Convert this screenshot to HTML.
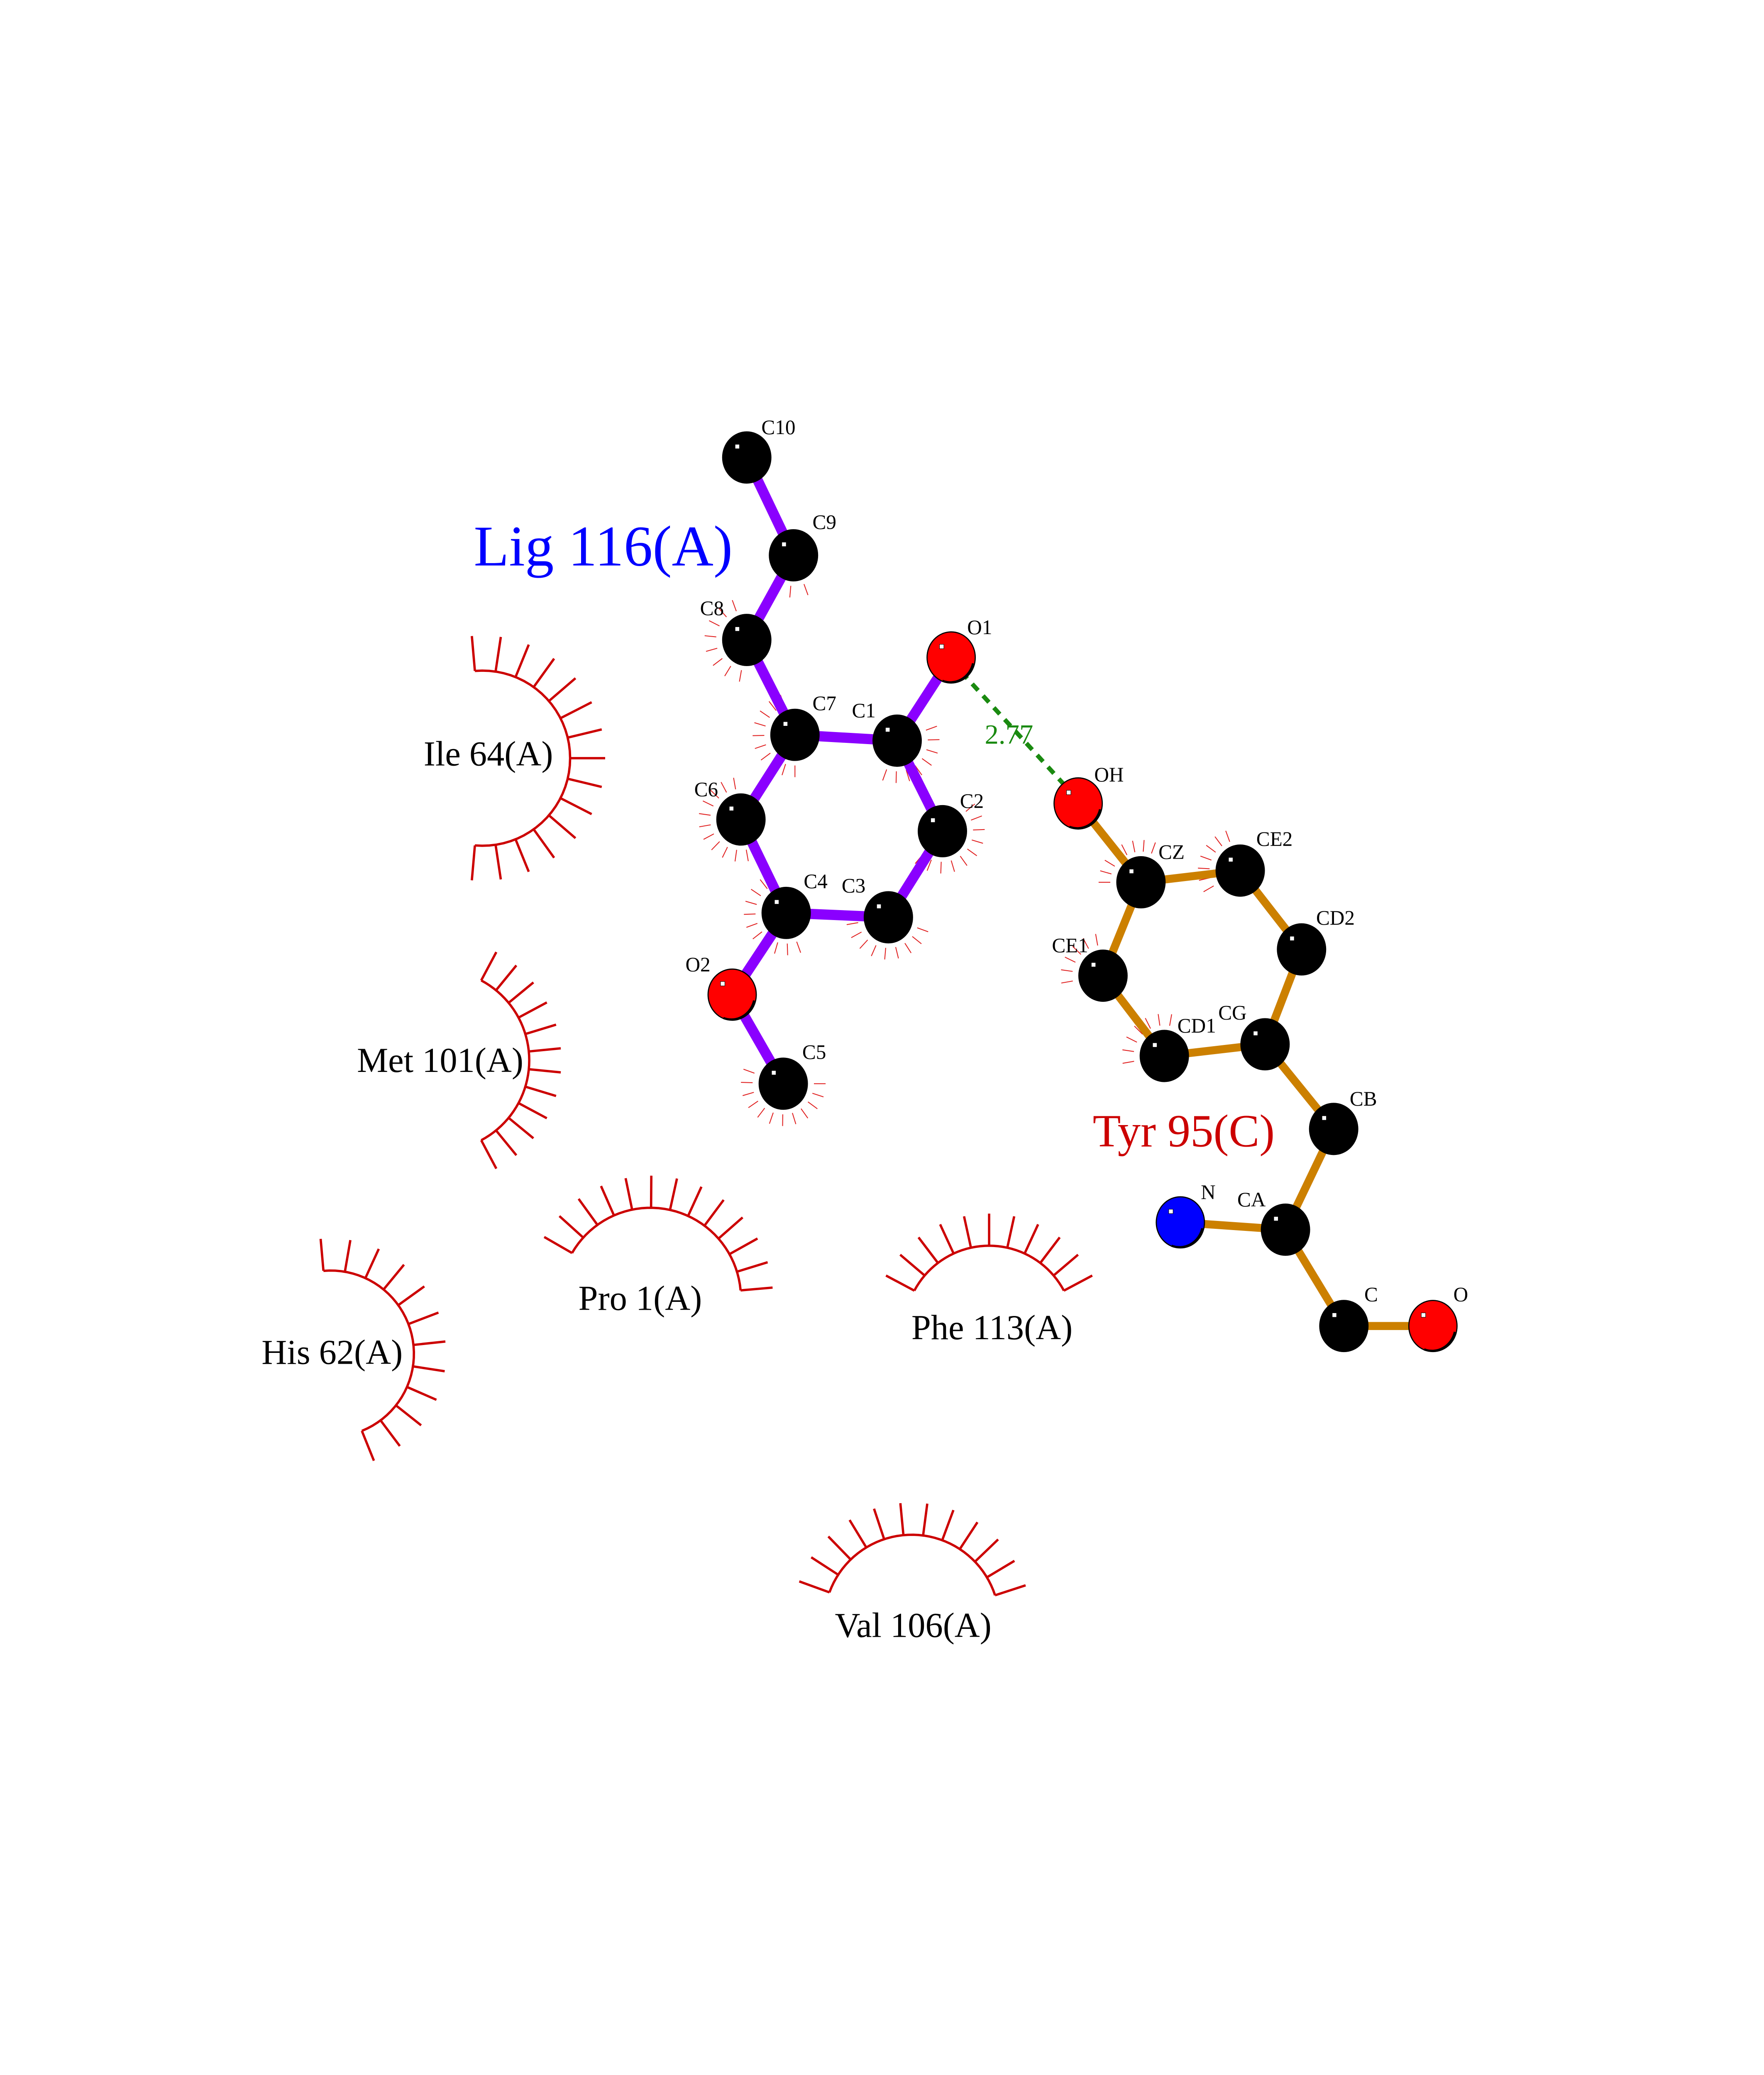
<!DOCTYPE html>
<html><head><meta charset="utf-8"><style>html,body{margin:0;padding:0;background:#fff;width:4250px;height:5500px;overflow:hidden}svg{display:block}</style></head>
<body>
<svg id="s" width="4250" height="5500" viewBox="0 0 1224 1584" xmlns="http://www.w3.org/2000/svg" font-family="Liberation Serif, serif">
<rect width="1224" height="1584" fill="#fff"/>
<g transform="matrix(1.013,0,0,1.013,-1.5,-0.6)">
<g id="arcs" stroke="#cc0000" fill="none" stroke-width="1.6"></g>
<g id="spk" stroke="#e02020" stroke-width="0.6"></g>
<g stroke="#8a00ff" stroke-width="7" stroke-linecap="butt">
<line x1="513" y1="314" x2="545" y2="381"/><line x1="545" y1="381" x2="513" y2="439"/>
<line x1="513" y1="439" x2="546" y2="504"/><line x1="546" y1="504" x2="616" y2="508"/>
<line x1="616" y1="508" x2="653" y2="451"/><line x1="616" y1="508" x2="647" y2="570"/>
<line x1="647" y1="570" x2="610" y2="629"/><line x1="610" y1="629" x2="540" y2="626"/>
<line x1="540" y1="626" x2="509" y2="562"/><line x1="509" y1="562" x2="546" y2="504"/>
<line x1="540" y1="626" x2="503" y2="682"/><line x1="503" y1="682" x2="538" y2="743"/>
</g>
<g stroke="#cc8000" stroke-width="5.5">
<line x1="740" y1="551" x2="783" y2="605"/><line x1="783" y1="605" x2="851" y2="597"/>
<line x1="851" y1="597" x2="893" y2="651"/><line x1="893" y1="651" x2="868" y2="716"/>
<line x1="868" y1="716" x2="799" y2="724"/><line x1="799" y1="724" x2="757" y2="669"/>
<line x1="757" y1="669" x2="783" y2="605"/><line x1="868" y1="716" x2="915" y2="774"/>
<line x1="915" y1="774" x2="882" y2="843"/><line x1="882" y1="843" x2="810" y2="838"/>
<line x1="882" y1="843" x2="922" y2="909"/><line x1="922" y1="909" x2="983" y2="909"/>
</g>
<line x1="660" y1="461" x2="733" y2="541" stroke="#1a8a10" stroke-width="3" stroke-dasharray="6,5"/>
<text x="676" y="510" font-size="19" fill="#1a8a10">2.77</text>
<g id="atoms" stroke="#000" stroke-width="0.8"></g>
<g font-size="14" fill="#000">
<text x="523" y="298">C10</text><text x="558" y="363">C9</text><text x="481" y="422">C8</text>
<text x="558" y="487">C7</text><text x="585" y="492">C1</text><text x="664" y="435">O1</text>
<text x="659" y="554">C2</text><text x="578" y="612">C3</text><text x="552" y="609">C4</text>
<text x="477" y="546">C6</text><text x="471" y="666">O2</text><text x="551" y="726">C5</text>
<text x="751" y="536">OH</text><text x="795" y="589">CZ</text><text x="862" y="580">CE2</text>
<text x="903" y="634">CD2</text><text x="836" y="699">CG</text><text x="808" y="708">CD1</text>
<text x="722" y="653">CE1</text><text x="926" y="758">CB</text><text x="849" y="827">CA</text>
<text x="824" y="822">N</text><text x="936" y="892">C</text><text x="997" y="892">O</text>
</g>
<text x="326" y="388" font-size="39.5" fill="#0000ff">Lig 116(A)</text>
<text x="750" y="786" font-size="31.5" fill="#cc0000">Tyr 95(C)</text>
<g font-size="24" fill="#000" text-anchor="middle">
<text x="336" y="525">Ile 64(A)</text><text x="303" y="735">Met 101(A)</text>
<text x="440" y="898">Pro 1(A)</text><text x="681" y="918">Phe 113(A)</text>
<text x="229" y="935">His 62(A)</text><text x="627" y="1122">Val 106(A)</text>
</g>
<text x="58" y="1469" font-size="14">.</text>
</g>
</svg>
<script>
var NS="http://www.w3.org/2000/svg";
function el(p,t,a){var e=document.createElementNS(NS,t);for(var k in a)e.setAttribute(k,a[k]);p.appendChild(e);return e;}
var arcs=document.getElementById('arcs');
function arc(cx,cy,r,a0,a1,n,len){
 var d="";for(var i=0;i<=40;i++){var a=(a0+(a1-a0)*i/40)*Math.PI/180;d+=(i?"L":"M")+(cx+r*Math.cos(a))+" "+(cy+r*Math.sin(a));}
 el(arcs,"path",{d:d});
 for(var i=0;i<n;i++){var a=(a0+(a1-a0)*i/(n-1))*Math.PI/180;
  el(arcs,"line",{x1:cx+r*Math.cos(a),y1:cy+r*Math.sin(a),x2:cx+(r+len)*Math.cos(a),y2:cy+(r+len)*Math.sin(a)});}
}
arc(332,520,60,-95,95,15,24);
arc(302,727,62,-62,62,12,22);
arc(228,928,57,-95,68,12,22);
arc(447,890,62,-150,-5,13,22);
arc(679,912,58,-152,-28,11,22);
arc(626,1112,60,-160,-18,12,22);
var spk=document.getElementById('spk');
function sp(cx,cy,a0,a1,n){for(var i=0;i<n;i++){var a=(a0+(a1-a0)*i/(n-1))*Math.PI/180;
 el(spk,"line",{x1:cx+21*Math.cos(a),y1:cy+21*Math.sin(a),x2:cx+29*Math.cos(a),y2:cy+29*Math.sin(a)});}}
sp(513,439,100,250,8);sp(546,504,90,250,10);sp(616,508,-20,110,8);sp(647,570,-40,130,10);
sp(610,629,20,170,9);sp(540,626,70,250,11);sp(509,562,80,260,11);sp(538,743,0,200,12);
sp(545,381,70,120,3);sp(783,605,180,290,8);sp(851,597,150,250,7);sp(757,669,170,260,6);sp(799,724,170,280,7);
var atoms=document.getElementById('atoms');
var A=[[513,314,0],[545,381,0],[513,439,0],[546,504,0],[616,508,0],[653,451,1],[647,570,0],[610,629,0],[540,626,0],[509,562,0],[503,682,1],[538,743,0],
[740,551,1],[783,605,0],[851,597,0],[893,651,0],[868,716,0],[799,724,0],[757,669,0],[915,774,0],[882,843,0],[810,838,2],[922,909,0],[983,909,1]];
var C=["#000","#ff0000","#0000ff"];
A.forEach(function(p){el(atoms,"ellipse",{cx:p[0],cy:p[1],rx:16.5,ry:17.5,fill:C[p[2]]});
 if(p[2])el(atoms,"path",{d:"M"+(p[0]-6)+" "+(p[1]+16)+"A16 17 0 0 0 "+(p[0]+15)+" "+(p[1]+4),fill:"none","stroke-width":"1.5"});
 el(atoms,"rect",{x:p[0]-8,y:p[1]-9,width:3,height:3,fill:"#fff","stroke-width":"0.3"});});
</script>
</body></html>
